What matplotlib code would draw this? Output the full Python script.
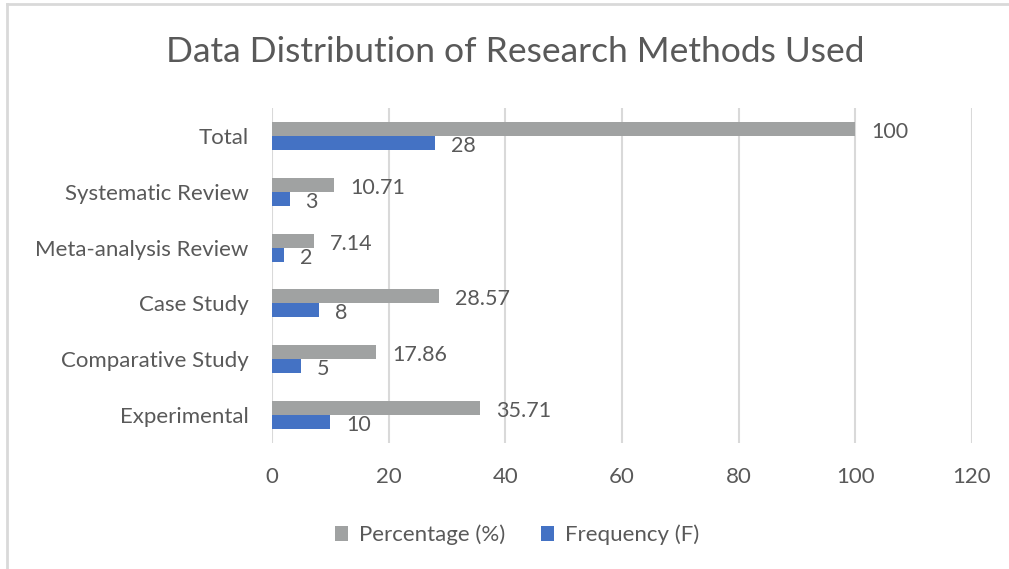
import matplotlib
matplotlib.use("Agg")
import matplotlib.pyplot as plt
from matplotlib.lines import Line2D
import numpy as np

categories = ["Experimental", "Comparative Study", "Case Study",
              "Meta-analysis Review", "Systematic Review", "Total"]
percentage = [35.71, 17.86, 28.57, 7.14, 10.71, 100]
frequency = [10, 5, 8, 2, 3, 28]
pct_labels = ["35.71", "17.86", "28.57", "7.14", "10.71", "100"]
freq_labels = ["10", "5", "8", "2", "3", "28"]
xticks = [0, 20, 40, 60, 80, 100, 120]

plt.rcParams['font.family'] = ['Lato', 'DejaVu Sans']
txt = '#595959'
gray = '#A0A2A2'
blue = '#4472C4'

fig = plt.figure(figsize=(10.09, 5.69), dpi=100)
ax = fig.add_axes([272/1009, 1-443/569, 700/1009, 335/569])

y = np.arange(len(categories))
h = 0.25
ax.barh(y + h/2, percentage, height=h, color=gray, label='Percentage (%)')
ax.barh(y - h/2, frequency, height=h, color=blue, label='Frequency (F)')

for yi, v, l in zip(y, percentage, pct_labels):
    ax.annotate(l, (v, yi + h/2), xytext=(16, -3), textcoords='offset pixels',
                ha='left', va='center', fontsize=15.5, color=txt)
for yi, v, l in zip(y, frequency, freq_labels):
    ax.annotate(l, (v, yi - h/2), xytext=(16, -3), textcoords='offset pixels',
                ha='left', va='center', fontsize=15.5, color=txt)

ax.set_xlim(0, 120)
ax.set_ylim(-0.5, len(categories) - 0.5)
ax.set_xticks(xticks)
ax.set_xticklabels([str(t) for t in xticks])
ax.set_yticks(y)
ax.set_yticklabels(categories)
ax.tick_params(axis='both', length=0, labelsize=16, labelcolor=txt)
ax.tick_params(axis='y', pad=17)
ax.tick_params(axis='x', pad=17)
ax.xaxis.grid(True, color='#D9D9D9', linewidth=1.5)
ax.set_axisbelow(True)
for s in ax.spines.values():
    s.set_visible(False)

fig.text(515/1009, 1-52/569, "Data Distribution of Research Methods Used",
         ha='center', va='center', fontsize=25.5, color=txt)

leg = fig.legend(loc='center', bbox_to_anchor=(517/1009, 1-535/569), ncol=2,
                 frameon=False, fontsize=16, handlelength=0.6, handleheight=0.6,
                 columnspacing=1.6, handletextpad=0.5)
for t in leg.get_texts():
    t.set_color(txt)

fig.add_artist(Line2D([7/1009, 1], [1-4/569, 1-4/569], color='#D9D9D9', linewidth=2,
                      transform=fig.transFigure))
fig.add_artist(Line2D([7/1009, 7/1009], [0, 1-4/569], color='#D9D9D9', linewidth=2,
                      transform=fig.transFigure))

fig.savefig("out.png", dpi=100)
